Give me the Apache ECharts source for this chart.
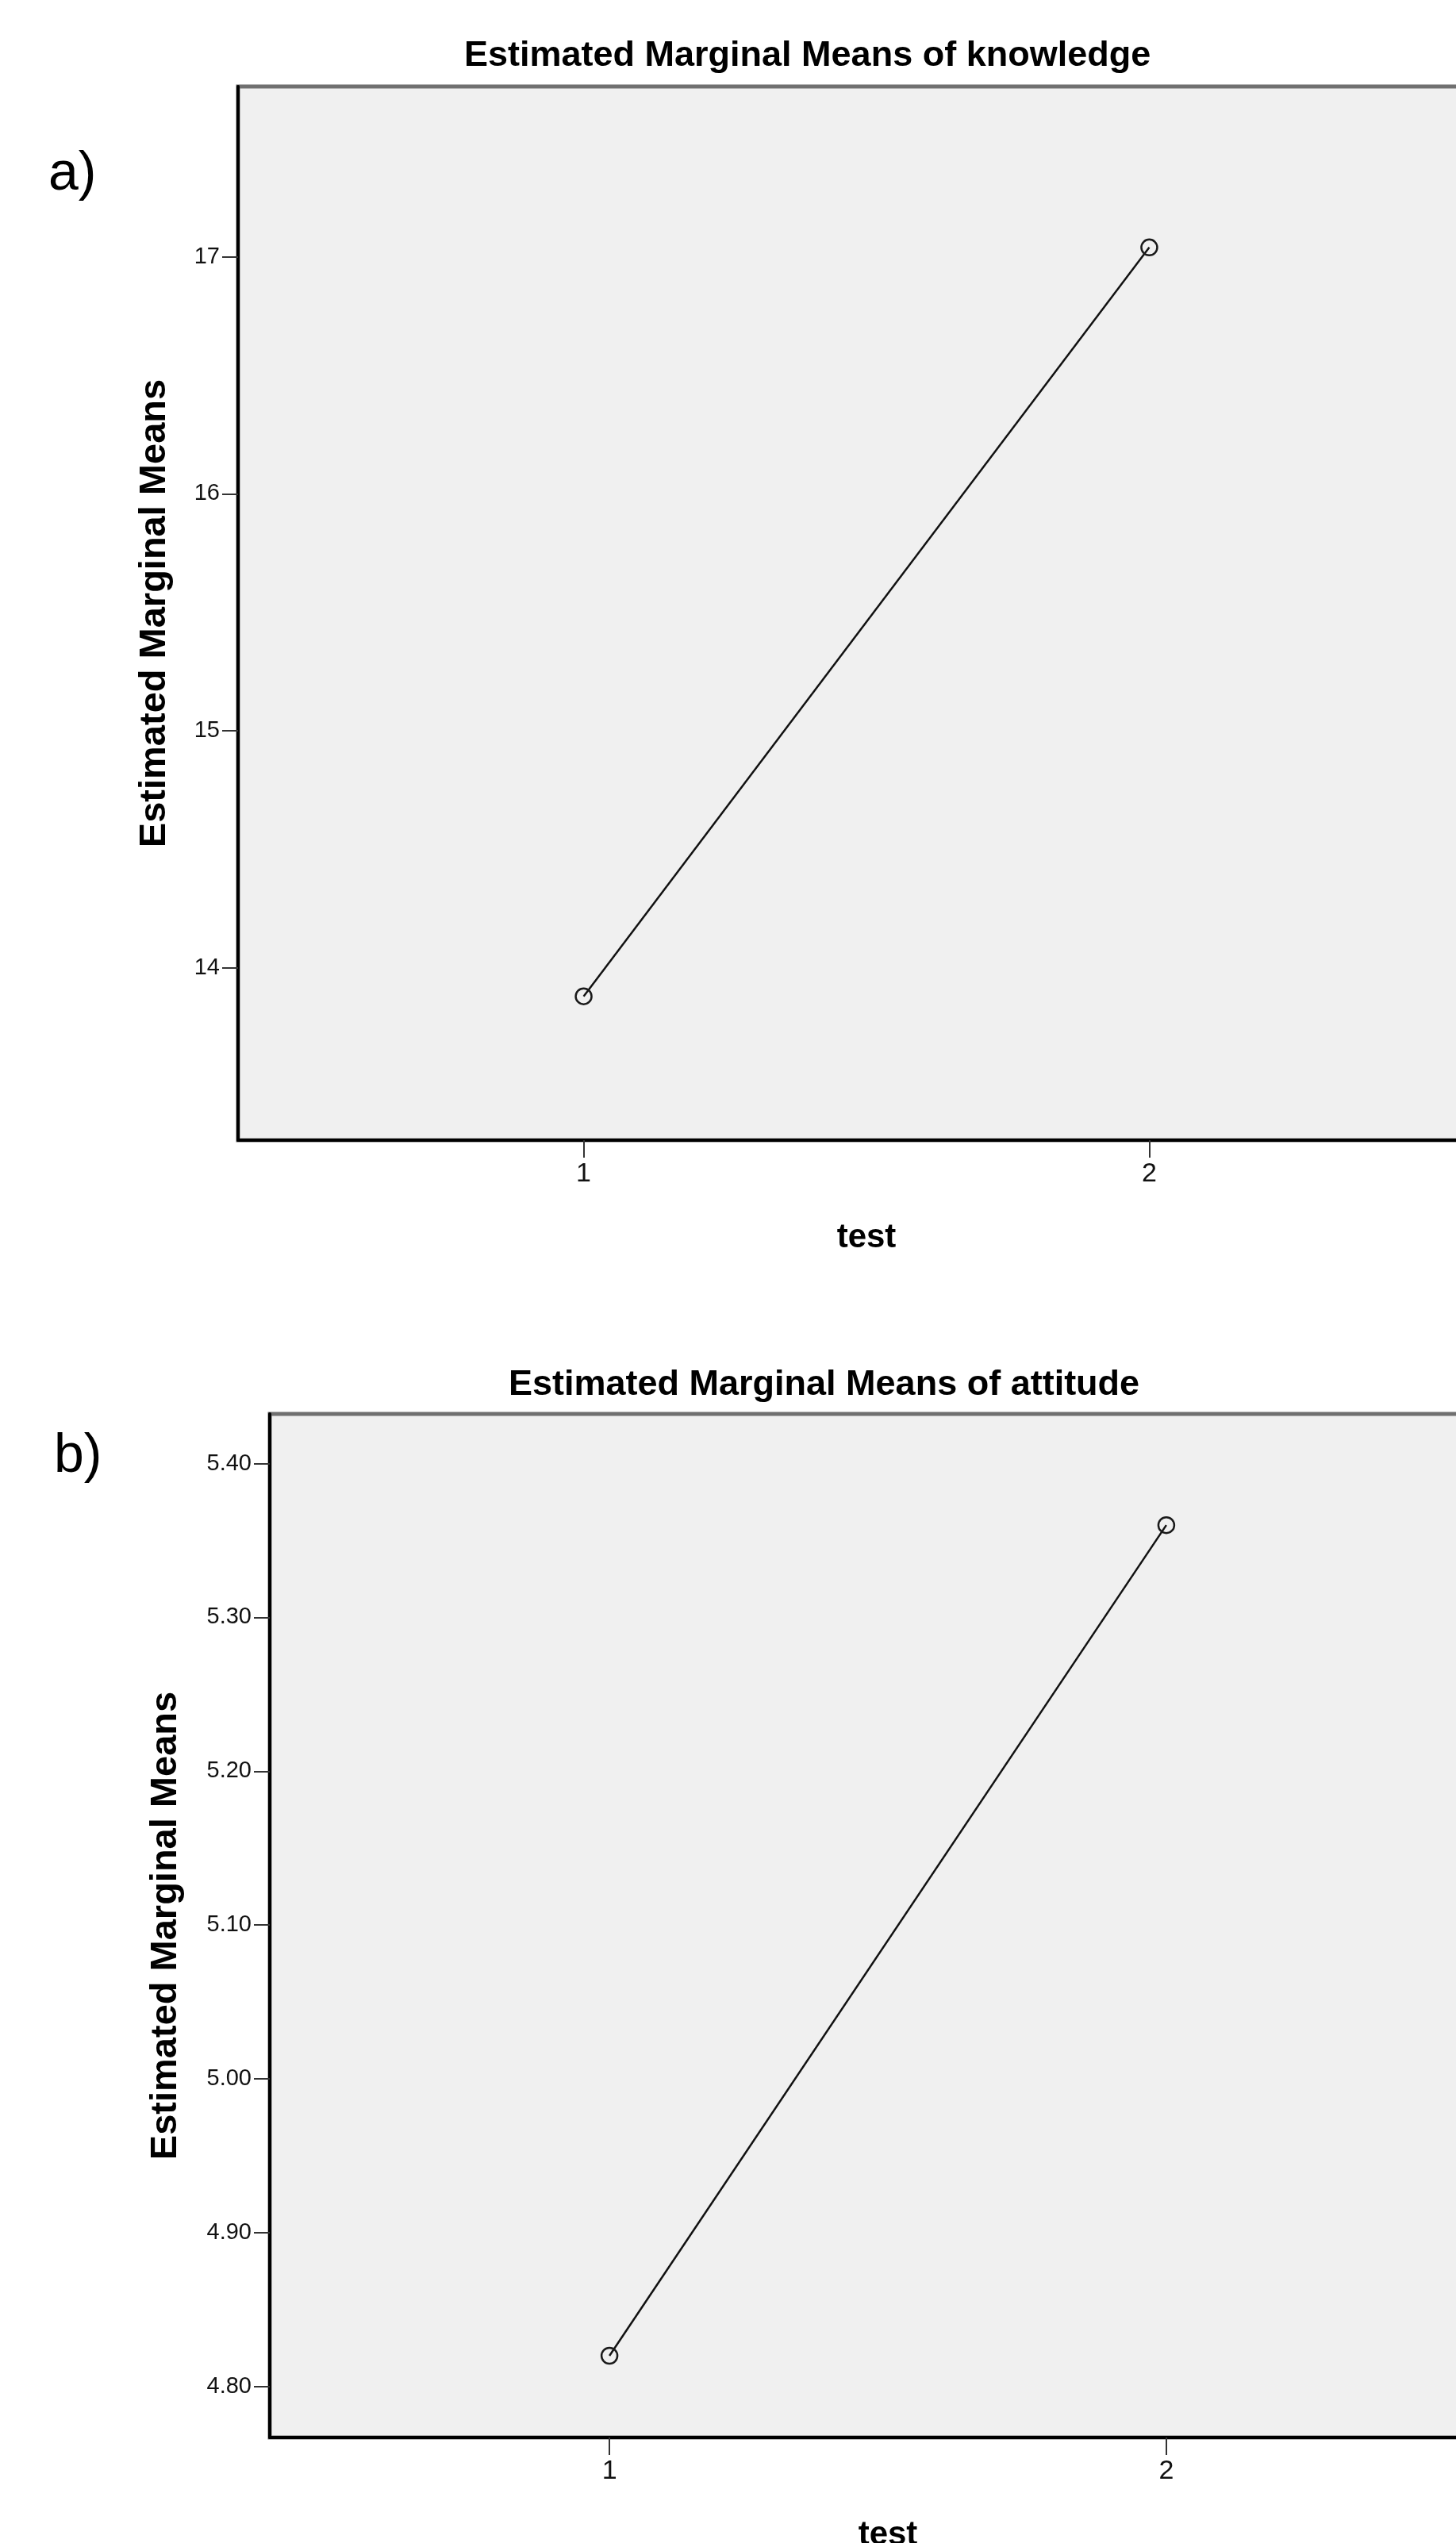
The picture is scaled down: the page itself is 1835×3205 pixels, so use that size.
<!DOCTYPE html>
<html>
<head>
<meta charset="utf-8">
<script src="https://cdn.jsdelivr.net/npm/echarts@6/dist/echarts.min.js"></script>
<style>
html,body{margin:0;padding:0;background:#fff;}
#c{width:1835px;height:3205px;}
</style>
</head>
<body>
<div id="c"></div>
<script>
// ---- data ----
const testLevels = [1, 2];
const knowledgeMeans = [13.88, 17.04];
const attitudeMeans = [4.82, 5.36];
const knowledgeTicks = [14, 15, 16, 17];
const attitudeTicks = [4.80, 4.90, 5.00, 5.10, 5.20, 5.30, 5.40];
const titles = ['Estimated Marginal Means of knowledge', 'Estimated Marginal Means of attitude'];
const panelLabels = ['a)', 'b)'];
const yAxisName = 'Estimated Marginal Means';
const xAxisName = 'test';

const FONT = 'Liberation Sans, Arial, sans-serif';
const chart = echarts.init(document.getElementById('c'), null, {renderer: 'canvas'});

function xAxisCfg(gridIndex, min, max) {
  return {
    type: 'value', gridIndex, min, max,
    name: xAxisName, nameLocation: 'middle', nameGap: 102,
    nameTextStyle: {fontFamily: FONT, fontSize: 42, fontWeight: 'bold', color: '#000'},
    axisLine: {show: true, onZero: false, lineStyle: {color: '#000', width: 4}},
    axisTick: {show: true, length: 22, customValues: testLevels, lineStyle: {color: '#333', width: 2}},
    axisLabel: {show: true, margin: 26, customValues: testLevels, fontFamily: FONT, fontSize: 34, color: '#111',
      formatter: v => String(Math.round(v))},
    splitLine: {show: false}
  };
}
function yAxisCfg(gridIndex, min, max, ticks, dec, gap) {
  return {
    type: 'value', gridIndex, min, max,
    name: yAxisName, nameLocation: 'middle', nameGap: gap,
    nameTextStyle: {fontFamily: FONT, fontSize: 47, fontWeight: 'bold', color: '#000'},
    axisLine: {show: true, onZero: false, lineStyle: {color: '#000', width: 4}},
    axisTick: {show: true, length: 20, customValues: ticks, lineStyle: {color: '#333', width: 2}},
    axisLabel: {show: true, margin: 23, customValues: ticks, fontFamily: FONT, fontSize: 29, color: '#111',
      padding: [14, 0, 0, 0], formatter: v => Number(v).toFixed(dec)},
    splitLine: {show: false}
  };
}
function seriesCfg(idx, vals) {
  return {
    type: 'line', xAxisIndex: idx, yAxisIndex: idx,
    data: testLevels.map((x, i) => [x, vals[i]]),
    symbol: 'circle', symbolSize: 20,
    itemStyle: {color: 'rgba(0,0,0,0)', borderColor: '#1a1a1a', borderWidth: 2.5},
    lineStyle: {color: '#111', width: 2.5},
    emphasis: {disabled: true},
    animation: false,
    z: 3
  };
}

const option = {
  animation: false,
  backgroundColor: '#fff',
  textStyle: {fontFamily: FONT},
  title: [
    {text: titles[0], left: 585, top: 48, padding: 0,
      textStyle: {fontFamily: FONT, fontSize: 45, fontWeight: 'bold', color: '#000'}},
    {text: titles[1], left: 641, top: 1723, padding: 0,
      textStyle: {fontFamily: FONT, fontSize: 45, fontWeight: 'bold', color: '#000'}},
    {text: panelLabels[0], left: 61, top: 186, padding: 0,
      textStyle: {fontFamily: FONT, fontSize: 68, fontWeight: 'normal', color: '#000'}},
    {text: panelLabels[1], left: 68, top: 1802, padding: 0,
      textStyle: {fontFamily: FONT, fontSize: 68, fontWeight: 'normal', color: '#000'}}
  ],
  grid: [
    {left: 300, top: 109, width: 1584, height: 1328, show: true, outerBoundsMode: 'none', containLabel: false,
      backgroundColor: '#f0f0f0', borderColor: '#707070', borderWidth: 5},
    {left: 340, top: 1782, width: 1558, height: 1290, show: true, outerBoundsMode: 'none', containLabel: false,
      backgroundColor: '#f0f0f0', borderColor: '#707070', borderWidth: 5}
  ],
  xAxis: [xAxisCfg(0, 0.389, 2.611), xAxisCfg(1, 0.390, 2.610)],
  yAxis: [
    yAxisCfg(0, 13.2728, 17.7192, knowledgeTicks, 0, 81),
    yAxisCfg(1, 4.7669, 5.4323, attitudeTicks, 2, 107)
  ],
  series: [seriesCfg(0, knowledgeMeans), seriesCfg(1, attitudeMeans)]
};
chart.setOption(option);
</script>
</body>
</html>
